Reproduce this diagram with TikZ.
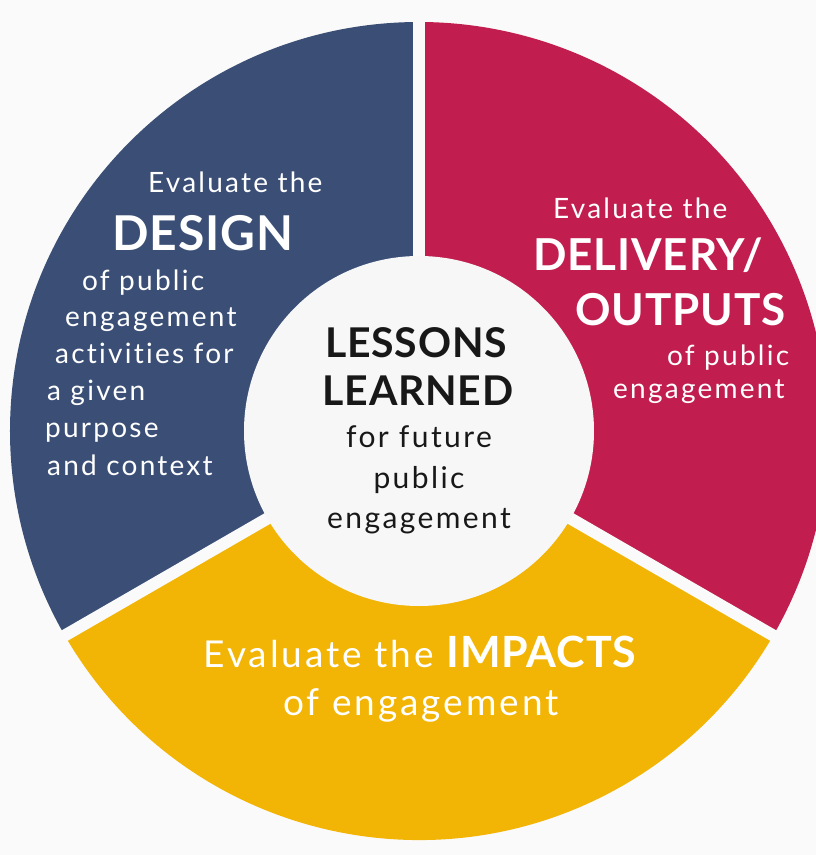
\documentclass[tikz,border=0pt]{standalone}
\usepackage{fontspec}
\setmainfont{Lato}[LetterSpace=8, Ligatures=NoCommon]
\newfontfamily\titlefont{Lato}[LetterSpace=2]
\definecolor{designblue}{RGB}{59,79,118}
\definecolor{deliveryred}{RGB}{193,30,79}
\definecolor{impactyellow}{RGB}{242,180,5}
\definecolor{paper}{RGB}{250,250,250}
\definecolor{core}{RGB}{247,247,247}
\definecolor{ink}{RGB}{24,24,24}

\begin{document}
\begin{tikzpicture}[x = 1pt, y = 1pt,
    seg/.style   = {line join=miter},
    gap/.style   = {draw=paper, line width=12pt},
    small/.style = {anchor=base west, inner sep=0pt, text=white, font=\fontsize{28}{34}\selectfont},
    big/.style   = {anchor=base west, inner sep=0pt, text=white, font=\titlefont\fontsize{48}{56}\bfseries},
    mid/.style   = {anchor=base, inner sep=0pt, text=ink, font=\fontsize{30}{36}\selectfont},
    head/.style  = {anchor=base, inner sep=0pt, text=ink, font=\titlefont\fontsize{41}{48}\bfseries},
    impact/.style= {anchor=base, inner sep=0pt, text=white, font=\fontsize{37}{43}\selectfont}]
  \fill[paper] (-419,-424) rectangle (397,431);
  \useasboundingbox (-419,-424) rectangle (397,431);
  \coordinate (c) at (0,0);
  \fill[seg, designblue]   (c) -- (90:409)  arc[start angle=90,  end angle=210, radius=409] -- cycle;
  \fill[seg, deliveryred]  (c) -- (-30:409) arc[start angle=-30, end angle=90,  radius=409] -- cycle;
  \fill[seg, impactyellow] (c) -- (210:409) arc[start angle=210, end angle=330, radius=409] -- cycle;
  \foreach \a in {90, 210, 330}
    \draw[gap] (c) -- (\a:420);
  \node[circle, fill=core, inner sep=0pt, minimum size=350pt] (lessons) at (c) {};

  \foreach \x/\y/\t [count=\i] in {-271/239/Evaluate the, -337/141/of public, -354/105/engagement,
      -364/68/activities for, -372/31/a given, -374/-6/purpose, -372/-44/and context}
    \node[small] (design\i) at (\x,\y) {\t};
  \node[big] (design) at (-307,181) {DESIGN};

  \foreach \x/\y/\t [count=\i] in {134/213/Evaluate the, 248/66/of public, 194/33/engagement}
    \node[small] (delivery\i) at (\x,\y) {\t};
  \node[big, font=\titlefont\fontsize{44}{52}\bfseries] (delivery) at (114,161) {DELIVERY/};
  \node[big, font=\titlefont\fontsize{44}{52}\bfseries] (outputs) at (156,106) {OUTPUTS};

  \node[impact] (impacts) at (1,-236) {Evaluate the {\titlefont\fontsize{43}{50}\bfseries IMPACTS}};
  \node[impact] (impacts2) at (2,-284) {of engagement};

  \node[head] (lessons1) at (-3,74) {LESSONS};
  \node[head] (lessons2) at (-1,26) {LEARNED};
  \foreach \y/\t [count=\i] in {-16/for future, -57/public, -97/engagement}
    \node[mid] (future\i) at (0,\y) {\t};
\end{tikzpicture}
\end{document}
